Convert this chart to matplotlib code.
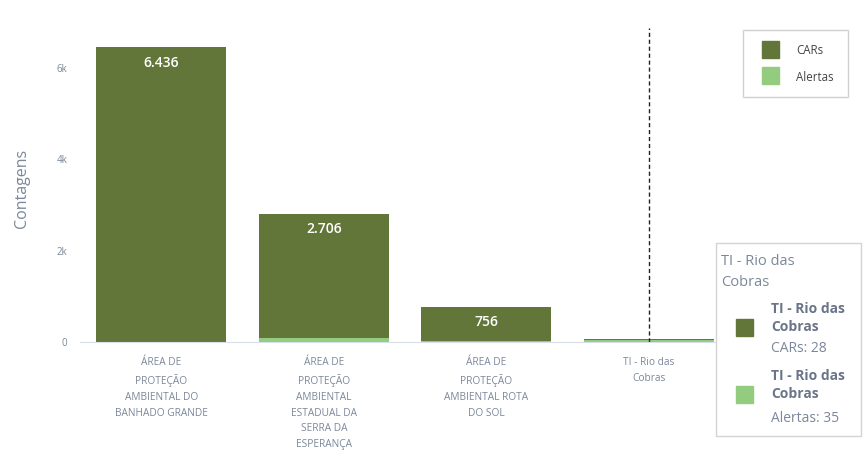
import numpy as np
import matplotlib.pyplot as plt
from matplotlib.patches import Rectangle

# dados
categorias = ['ÁREA DE\nPROTEÇÃO\nAMBIENTAL DO\nBANHADO GRANDE',
              'ÁREA DE\nPROTEÇÃO\nAMBIENTAL\nESTADUAL DA\nSERRA DA\nESPERANÇA',
              'ÁREA DE\nPROTEÇÃO\nAMBIENTAL ROTA\nDO SOL',
              'TI - Rio das\nCobras']
cars = [6436, 2706, 756, 28]
alertas = [8, 95, 20, 35]
rotulos = ['6.436', '2.706', '756', '']
yticks = [0, 2000, 4000, 6000]
ytick_labels = ['0', '2k', '4k', '6k']

cor_cars = '#637639'
cor_alertas = '#93cb7f'
cor_texto = '#7b879a'

plt.rcParams['font.family'] = ['Open Sans', 'DejaVu Sans']

fig = plt.figure(figsize=(8.64, 4.55), dpi=100)
ax = fig.add_axes([0.0926, 0.2484, 0.7524, 0.7032])

x = np.arange(len(categorias))
ax.bar(x, alertas, width=0.8, color=cor_alertas, linewidth=0)
ax.bar(x, cars, width=0.8, bottom=alertas, color=cor_cars, linewidth=0)

for i in range(len(x)):
    if rotulos[i]:
        ax.annotate(rotulos[i], (x[i], cars[i] + alertas[i]), xytext=(0, -6),
                    textcoords='offset points', ha='center', va='top',
                    color='white', fontsize=10, fontweight='semibold')

# linha do tooltip
ax.axvline(3, color='#222222', lw=1, ls=(0, (3, 2)), ymin=0, ymax=0.98)

ax.set_xlim(-0.5, 3.5)
ax.set_ylim(0, 7000)
ax.set_yticks(yticks)
ax.set_yticklabels(ytick_labels)
ax.set_xticks(x)
ax.set_xticklabels(categorias, linespacing=1.6, fontsize=7.3)
ax.tick_params(axis='both', length=0, colors=cor_texto)
ax.tick_params(axis='y', labelsize=7, pad=9)
ax.tick_params(axis='x', pad=11)
for s in ['top', 'right', 'left']:
    ax.spines[s].set_visible(False)
ax.spines['bottom'].set_color('#d8dfea')
ax.spines['bottom'].set_linewidth(0.8)
ax.set_ylabel('Contagens', fontsize=11.5, color=cor_texto)
ax.yaxis.set_label_coords(-0.077, 0.48)

# legenda
W, H = 864, 455
def fx(px):
    return px / W
def fy(py):
    return 1 - py / H

fig.patches.append(Rectangle((fx(743), fy(97)), fx(848) - fx(743), fy(30) - fy(97),
                             transform=fig.transFigure, facecolor='white',
                             edgecolor='#d0d0d0', lw=1))
fig.patches.append(Rectangle((fx(762), fy(58)), fx(17), 17 / H,
                             transform=fig.transFigure, color=cor_cars))
fig.patches.append(Rectangle((fx(762), fy(84)), fx(17), 17 / H,
                             transform=fig.transFigure, color=cor_alertas))
fig.text(fx(796), fy(50), 'CARs', fontsize=8.3, color='#444444', va='center')
fig.text(fx(796), fy(77), 'Alertas', fontsize=8.3, color='#444444', va='center')

# tooltip
fig.patches.append(Rectangle((fx(716), fy(436)), fx(861) - fx(716), fy(243) - fy(436),
                             transform=fig.transFigure, facecolor='white',
                             edgecolor='#d4d4d4', lw=1))
fig.text(fx(721), fy(272), 'TI - Rio das\nCobras', fontsize=10.5, color=cor_texto,
         va='center', linespacing=1.5)
fig.patches.append(Rectangle((fx(736), fy(336)), fx(17), 17 / H,
                             transform=fig.transFigure, color=cor_cars))
fig.patches.append(Rectangle((fx(736), fy(403)), fx(17), 17 / H,
                             transform=fig.transFigure, color=cor_alertas))
fig.text(fx(771), fy(318), 'TI - Rio das\nCobras', fontsize=10, color='#6b7589',
         fontweight='bold', va='center', linespacing=1.4)
fig.text(fx(771), fy(349), 'CARs: 28', fontsize=10, color=cor_texto, va='center')
fig.text(fx(771), fy(385), 'TI - Rio das\nCobras', fontsize=10, color='#6b7589',
         fontweight='bold', va='center', linespacing=1.4)
fig.text(fx(771), fy(418), 'Alertas: 35', fontsize=10, color=cor_texto, va='center')

fig.savefig('out.png', dpi=100)
